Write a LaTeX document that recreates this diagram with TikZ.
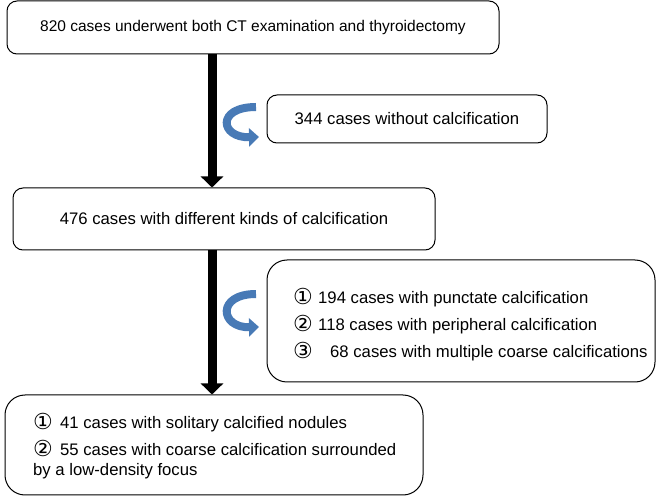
\documentclass[tikz,border=0pt]{standalone}
\usepackage{fontspec}
\setmainfont{Liberation Sans}
\newfontfamily\circfont{DejaVu Sans}
\usetikzlibrary{arrows.meta}
\definecolor{arrowblue}{RGB}{72,122,182}
\tikzset{
  box/.style={draw, line width=1pt, rounded corners=10pt, inner sep=0pt, font=\fontsize{16.7}{19}\selectfont},
  bigbox/.style={draw, line width=1pt, rounded corners=20pt, inner sep=0pt},
  flow/.style={line width=9pt, -{Triangle[width=22pt,length=11pt]}},
  turn/.style={arrowblue, line width=8pt, -{Triangle[width=18pt,length=10pt]}},
  txt/.style={anchor=west, inner sep=0pt, font=\fontsize{16.7}{19}\selectfont}
}
\newcommand{\cnum}[2]{\makebox[#1][l]{\circfont\fontsize{22}{19}\selectfont\raisebox{-1pt}{#2}}}
\begin{document}
\begin{tikzpicture}[x=1pt,y=-1pt]
\useasboundingbox (0,0) rectangle (657,497);
\node[box, minimum width=492pt, minimum height=53pt, font=\fontsize{15.5}{18}\selectfont] (b1) at (253,27.5) {820 cases underwent both CT examination and thyroidectomy};
\node[box, minimum width=280pt, minimum height=48pt] (b2) at (407,119) {344 cases without calcification};
\node[box, minimum width=422pt, minimum height=62pt] (b3) at (224,219) {476 cases with different kinds of calcification};
\node[bigbox, minimum width=388pt, minimum height=122pt] (b4) at (461,321) {};
\node[txt] (l41) at (293,298) {\cnum{25pt}{①}194 cases with punctate calcification};
\node[txt] (l42) at (293,325) {\cnum{25pt}{②}118 cases with peripheral calcification};
\node[txt] (l43) at (293,352) {\cnum{37pt}{③}68 cases with multiple coarse calcifications};
\node[bigbox, minimum width=418pt, minimum height=100pt] (b5) at (214,445) {};
\node[txt] (l51) at (33,423) {\cnum{27pt}{①}41 cases with solitary calcified nodules};
\node[txt] (l52) at (33,448) {\cnum{27pt}{②}55 cases with coarse calcification surrounded};
\node[txt] (l53) at (33,471) {by a low-density focus};
\coordinate (a1s) at (212,54);
\coordinate (a2s) at (212,250);
\draw[flow] (a1s) -- (b3.north -| a1s);
\draw[flow] (a2s) -- (b5.north -| a2s);
\coordinate (c1s) at (256,107);
\coordinate (c1e) at (259,137);
\draw[turn] (c1s) .. controls (216,107) and (220,138) .. (c1e);
\coordinate (c2s) at (256,294);
\coordinate (c2e) at (259,327);
\draw[turn] (c2s) .. controls (216,294) and (220,328) .. (c2e);
\end{tikzpicture}
\end{document}
